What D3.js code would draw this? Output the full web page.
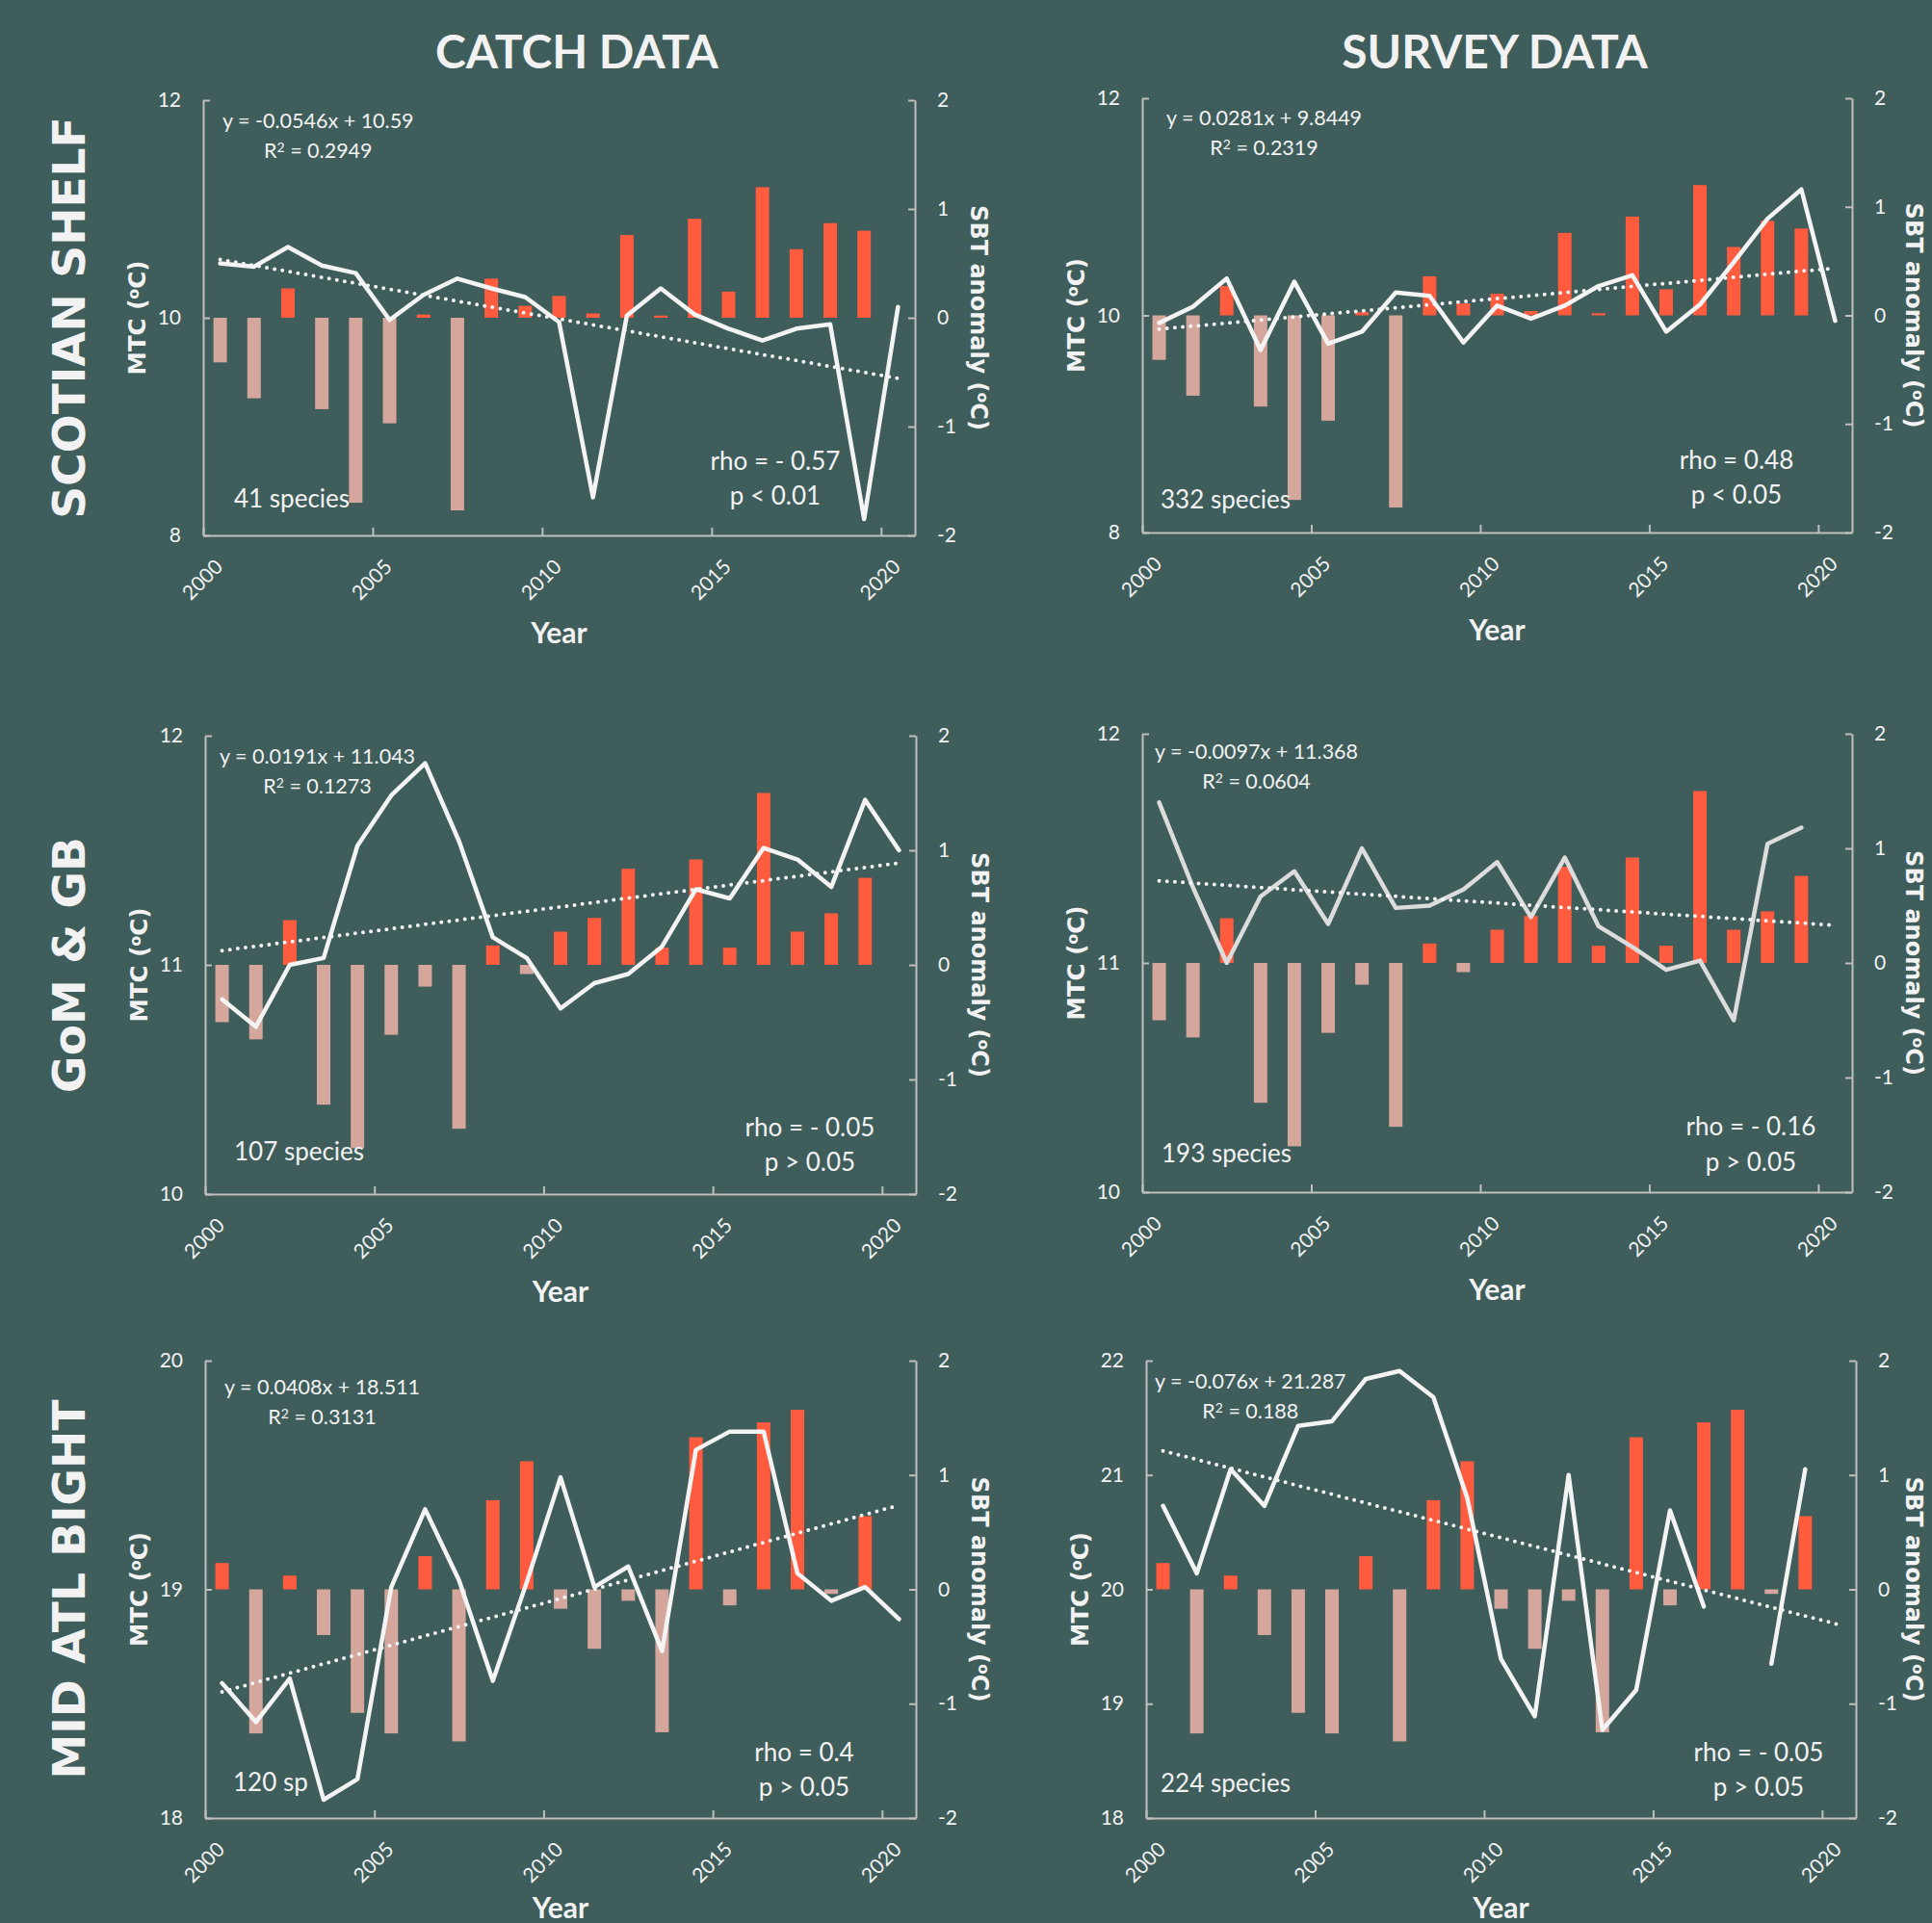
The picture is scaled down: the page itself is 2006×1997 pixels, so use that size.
<!DOCTYPE html>
<html lang="en">
<head>
<meta charset="UTF-8">
<title>MTC vs SBT anomaly</title>
<style>
    body{
        margin: 0;
        background-color: #3e5d5b;
    }
    svg text{
        fill: #f2f2f2;
    }
</style>
</head>
<body>
<div id="chart"></div>
<script src="https://d3js.org/d3.v7.min.js"></script>
<script>

// ---- data ----
const years = [2000,2001,2002,2003,2004,2005,2006,2007,2008,2009,2010,
               2011,2012,2013,2014,2015,2016,2017,2018,2019,2020]
const yearTicks = [2000,2005,2010,2015,2020]

// SBT anomaly (right axis, bars), one per region
const sbtScotian = [-0.41,-0.74,0.27,-0.84,-1.70,-0.97,0.03,-1.77,0.36,0.11,0.20,
                    0.04,0.76,0.02,0.91,0.24,1.20,0.63,0.87,0.80,null]
const sbtGom     = [-0.50,-0.65,0.39,-1.22,-1.60,-0.61,-0.19,-1.43,0.17,-0.08,0.29,
                    0.41,0.84,0.15,0.92,0.15,1.50,0.29,0.45,0.76,null]
const sbtMab     = [0.23,-1.26,0.12,-0.40,-1.08,-1.26,0.29,-1.33,0.78,1.12,-0.17,
                    -0.52,-0.10,-1.25,1.33,-0.14,1.46,1.57,-0.04,0.64,null]

// MTC (left axis, line)
const mtcCatchScotian  = [10.50,10.47,10.65,10.48,10.41,9.98,10.21,10.36,10.27,10.19,9.96,
                          8.35,10.02,10.27,10.03,9.90,9.79,9.90,9.94,8.15,10.10]
const mtcSurveyScotian = [9.93,10.08,10.34,9.68,10.31,9.74,9.85,10.21,10.18,9.75,10.09,
                          9.97,10.09,10.27,10.37,9.85,10.10,10.49,10.89,11.16,9.95]
const mtcCatchGom      = [10.85,10.73,11.00,11.03,11.52,11.74,11.88,11.54,11.12,11.03,10.81,
                          10.92,10.96,11.08,11.33,11.29,11.51,11.46,11.34,11.72,11.50]
const mtcSurveyGom     = [11.70,11.33,11.00,11.29,11.40,11.17,11.50,11.24,11.25,11.32,11.44,
                          11.20,11.46,11.16,11.07,10.97,11.01,10.75,11.52,11.59,null]
const mtcCatchMab      = [18.59,18.42,18.61,18.08,18.17,19.01,19.35,19.04,18.60,19.03,19.49,
                          19.01,19.10,18.73,19.61,19.69,19.69,19.07,18.95,19.01,18.87]
const mtcSurveyMab     = [20.73,20.14,21.05,20.73,21.43,21.47,21.84,21.91,21.68,20.80,19.39,
                          18.89,21.00,18.77,19.12,20.69,19.85,null,19.35,21.05,null]

// linear trend shown on each panel (x = 1..21)
const trendSlope     = [-0.0546, 0.0281, 0.0191, -0.0097, 0.0408, -0.076]
const trendIntercept = [10.59, 9.8449, 11.043, 11.368, 18.511, 21.287]

const eqLabels  = ["y = -0.0546x + 10.59","y = 0.0281x + 9.8449","y = 0.0191x + 11.043",
                   "y = -0.0097x + 11.368","y = 0.0408x + 18.511","y = -0.076x + 21.287"]
const r2Labels  = ["0.2949","0.2319","0.1273","0.0604","0.3131","0.188"]
const rhoLabels = ["rho = - 0.57","rho = 0.48","rho = - 0.05","rho = - 0.16","rho = 0.4","rho = - 0.05"]
const pLabels   = ["p < 0.01","p < 0.05","p > 0.05","p > 0.05","p > 0.05","p > 0.05"]
const speciesLabels = ["41 species","332 species","107 species","193 species","120 sp","224 species"]

const leftDomains = [[8,12],[8,12],[10,12],[10,12],[18,20],[18,22]]
const leftTicks   = [[8,10,12],[8,10,12],[10,11,12],[10,11,12],[18,19,20],[18,19,20,21,22]]
const rightTicks  = [-2,-1,0,1,2]

const columnTitles = ["CATCH DATA","SURVEY DATA"]
const rowTitles    = ["SCOTIAN SHELF","GoM & GB","MID ATL BIGHT"]

const sbtSeries = [sbtScotian, sbtScotian, sbtGom, sbtGom, sbtMab, sbtMab]
const mtcSeries = [mtcCatchScotian, mtcSurveyScotian, mtcCatchGom, mtcSurveyGom, mtcCatchMab, mtcSurveyMab]

// ---- layout ----
const W = 2006, H = 1997
const posColor = "#ff5b3e", negColor = "#d5a69c", axisColor = "#bfbfbf"
const titleX = [599, 1552]

const panels = [
    {left:211,  top:104,  w:739, h:452, eqX:20, eqY:29, spX:32, spY:-29, rhoX:145, rhoY:-68, pY:-32, line:"#f4f4f4"},
    {left:1186, top:102,  w:737, h:451, eqX:25, eqY:28, spX:19, spY:-25, rhoX:120, rhoY:-66, pY:-30, line:"#f4f4f4"},
    {left:213,  top:764,  w:738, h:476, eqX:15, eqY:29, spX:30, spY:-35, rhoX:110, rhoY:-60, pY:-24, line:"#f4f4f4"},
    {left:1186, top:762,  w:737, h:476, eqX:13, eqY:26, spX:20, spY:-31, rhoX:105, rhoY:-59, pY:-22, line:"#dcdcdc"},
    {left:213,  top:1413, w:738, h:475, eqX:20, eqY:35, spX:29, spY:-28, rhoX:116, rhoY:-59, pY:-23, line:"#f4f4f4"},
    {left:1190, top:1413, w:737, h:475, eqX:9,  eqY:29, spX:15, spY:-27, rhoX:101, rhoY:-59, pY:-23, line:"#f4f4f4"}
]

let svg = d3.select("#chart")
    .append("svg")
    .attr("width", W)
    .attr("height", H)
    .style("display","block")

svg.append("rect").attr("width",W).attr("height",H).attr("fill","#3e5d5b")

// column titles
columnTitles.forEach((t,i)=>{
    svg.append("text")
        .attr("x", titleX[i])
        .attr("y", 71)
        .attr("text-anchor","middle")
        .style("font-family","Lato, sans-serif")
        .style("font-weight","bold")
        .style("font-size","48px")
        .text(t)
})

// row titles
rowTitles.forEach((t,i)=>{
    let p = panels[i*2]
    svg.append("text")
        .attr("transform",`translate(88,${p.top + p.h/2}) rotate(-90)`)
        .attr("text-anchor","middle")
        .style("font-family","'DejaVu Sans', sans-serif")
        .style("font-weight","bold")
        .style("font-size","47px")
        .text(t)
})

function degLabel(sel, before){
    sel.append("tspan").text(before + "(")
    sel.append("tspan").attr("dy","-0.45em").style("font-size","0.65em").text("o")
    sel.append("tspan").attr("dy","0.3em").text("C)")
}

panels.forEach((p,i)=>{
    let g = svg.append("g").attr("transform",`translate(${p.left},${p.top})`)

    let x = d3.scaleLinear().domain([2000, 2021]).range([0, p.w])
    let yL = d3.scaleLinear().domain(leftDomains[i]).range([p.h, 0])
    let yR = d3.scaleLinear().domain([-2, 2]).range([p.h, 0])
    let barW = 14

    let bars = years.map((yr,k)=>({year:yr, value:sbtSeries[i][k]})).filter(d=>d.value!==null)
    g.selectAll(".bar")
        .data(bars)
        .join("rect")
        .attr("class","bar")
        .attr("x", d => x(d.year + 0.5) - barW/2)
        .attr("y", d => yR(Math.max(0, d.value)))
        .attr("width", barW)
        .attr("height", d => Math.abs(yR(d.value) - yR(0)))
        .attr("fill", d => d.value >= 0 ? posColor : negColor)

    // axes
    let axL = g.append("g")
        .call(d3.axisLeft(yL).tickValues(leftTicks[i]).tickFormat(d => String(d))
            .tickSize(-7).tickSizeOuter(0).tickPadding(23))
    let axR = g.append("g").attr("transform",`translate(${p.w},0)`)
        .call(d3.axisRight(yR).tickValues(rightTicks).tickFormat(d => String(d))
            .tickSize(-7).tickSizeOuter(0).tickPadding(23))
    let axB = g.append("g").attr("transform",`translate(0,${p.h})`)
        .call(d3.axisBottom(x).tickValues(yearTicks).tickFormat(d => String(d))
            .tickSize(-8).tickSizeOuter(0))
    axB.selectAll("text")
        .attr("y",0).attr("dy",0)
        .attr("transform","translate(21,34) rotate(-45)")
        .style("text-anchor","end")

    ;[axL, axR, axB].forEach(a=>{
        a.selectAll("path, line").attr("stroke", axisColor).attr("stroke-width", 2)
        a.selectAll("text")
            .attr("fill","#ececec")
            .style("font-family","Lato, sans-serif")
            .style("font-size","21px")
    })

    // trend (dotted)
    let trend = [years[0], years[years.length-1]].map(yr=>{
        let k = years.indexOf(yr) + 1
        return {year: yr, value: trendSlope[i]*k + trendIntercept[i]}
    })
    let line = d3.line()
        .defined(d => d.value !== null)
        .x(d => x(d.year + 0.5))
        .y(d => yL(d.value))

    // MTC line
    g.append("path")
        .attr("d", line(years.map((yr,k)=>({year:yr, value:mtcSeries[i][k]}))))
        .attr("fill","none")
        .attr("stroke", p.line)
        .attr("stroke-width", 4.5)
        .attr("stroke-linejoin","round")
        .attr("stroke-linecap","round")

    g.append("path")
        .attr("d", line(trend))
        .attr("fill","none")
        .attr("stroke","#f4f4f4")
        .attr("stroke-width", 4)
        .attr("stroke-linecap","round")
        .attr("stroke-dasharray","0 8.2")

    // annotations
    let eq = g.append("text")
        .attr("x", p.eqX).attr("y", p.eqY)
        .style("font-family","Lato, sans-serif")
        .style("font-size","21.5px")
        .text(eqLabels[i])
    let eqW = eq.node().getComputedTextLength()
    let r2 = g.append("text")
        .attr("x", p.eqX + eqW/2).attr("y", p.eqY + 31)
        .attr("text-anchor","middle")
        .style("font-family","Lato, sans-serif")
        .style("font-size","21.5px")
    r2.append("tspan").text("R")
    r2.append("tspan").attr("dy","-0.45em").style("font-size","0.65em").text("2")
    r2.append("tspan").attr("dy","0.29em").text(" = " + r2Labels[i])

    g.append("text")
        .attr("x", p.spX).attr("y", p.h + p.spY)
        .style("font-family","Lato, sans-serif")
        .style("font-size","26px")
        .text(speciesLabels[i])

    g.append("text")
        .attr("x", p.w - p.rhoX).attr("y", p.h + p.rhoY)
        .attr("text-anchor","middle")
        .style("font-family","Lato, sans-serif")
        .style("font-size","26px")
        .text(rhoLabels[i])
    g.append("text")
        .attr("x", p.w - p.rhoX).attr("y", p.h + p.pY)
        .attr("text-anchor","middle")
        .style("font-family","Lato, sans-serif")
        .style("font-size","26px")
        .text(pLabels[i])

    // axis titles (bottom row pulled up a little so it stays on the page)
    g.append("text")
        .attr("x", p.w/2).attr("y", Math.min(p.h + 112, H - 5 - p.top))
        .attr("text-anchor","middle")
        .style("font-family","Lato, sans-serif")
        .style("font-weight","bold")
        .style("font-size","30px")
        .text("Year")

    let lt = g.append("text")
        .attr("transform",`translate(-60,${p.h/2}) rotate(-90)`)
        .attr("text-anchor","middle")
        .style("font-family","'DejaVu Sans', sans-serif")
        .style("font-weight","bold")
        .style("font-size","24.5px")
    degLabel(lt, "MTC ")

    // right title kept inside the page on the right-hand column
    let rx = Math.min(p.w + 58, W - p.left - 27)
    let rt = g.append("text")
        .attr("transform",`translate(${rx},${p.h/2}) rotate(90)`)
        .attr("text-anchor","middle")
        .style("font-family","'DejaVu Sans', sans-serif")
        .style("font-weight","bold")
        .style("font-size","24px")
    degLabel(rt, "SBT anomaly ")
})

</script>
</body>
</html>
